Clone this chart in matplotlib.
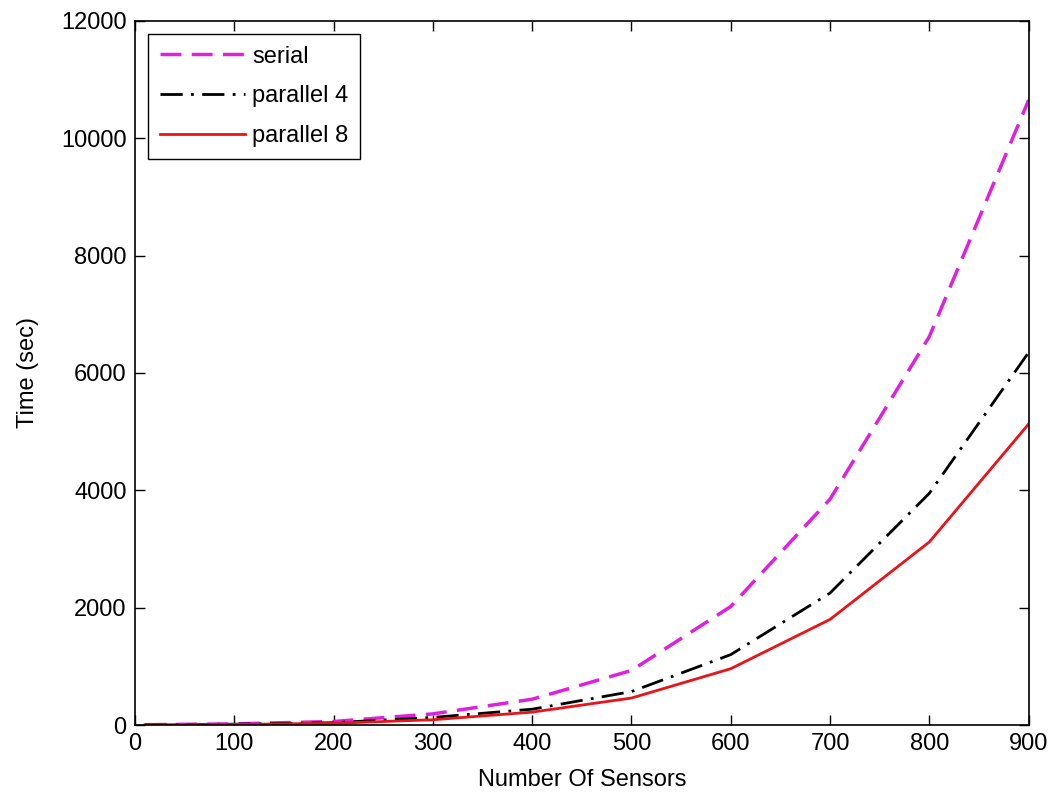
import matplotlib
matplotlib.use("Agg")
import matplotlib.pyplot as plt

plt.rcParams['font.family'] = ['Liberation Sans', 'DejaVu Sans']

sensors = [10, 100, 200, 300, 400, 500, 600, 700, 800, 900]
serial = [5, 20, 60, 190, 440, 930, 2020, 3850, 6620, 10650]
parallel4 = [5, 15, 40, 130, 270, 570, 1200, 2250, 3950, 6350]
parallel8 = [5, 10, 30, 90, 220, 460, 960, 1800, 3120, 5130]

xticks = [0, 100, 200, 300, 400, 500, 600, 700, 800, 900]
yticks = [0, 2000, 4000, 6000, 8000, 10000, 12000]

FS = 17

fig = plt.figure(figsize=(10.55, 7.97), dpi=100)
ax = fig.add_axes([0.128, 0.0903, 0.847, 0.8834])

ax.plot(sensors, serial, color='#dd22dd', lw=2.5, dashes=(6, 3), label='serial')
ax.plot(sensors, parallel4, color='black', lw=2.0, dashes=(8, 3, 1, 3), label='parallel 4')
ax.plot(sensors, parallel8, color='#e8141a', lw=2.0, label='parallel 8')

ax.set_xlim(0, 900)
ax.set_ylim(0, 12000)
ax.set_xticks(xticks)
ax.set_yticks(yticks)
ax.tick_params(direction='in', length=7, width=1, top=True, right=True,
               labelsize=FS, pad=6)
for s in ax.spines.values():
    s.set_linewidth(1.2)

ax.set_xlabel('Number Of Sensors', fontsize=FS, labelpad=10)
ax.set_ylabel('Time (sec)', fontsize=FS, labelpad=16)

leg = ax.legend(loc='upper left', fontsize=FS, handlelength=3.6, handletextpad=0.3,
                borderaxespad=0.55, fancybox=False, edgecolor='black',
                framealpha=1, borderpad=0.5, labelspacing=0.75)
leg.get_frame().set_linewidth(1.0)

fig.savefig('out.png', dpi=100)
